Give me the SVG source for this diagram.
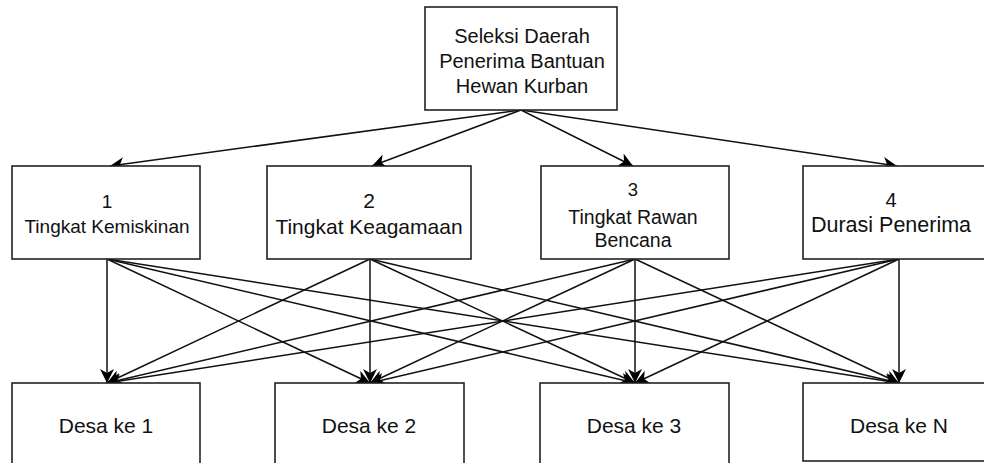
<svg xmlns="http://www.w3.org/2000/svg" width="984" height="463" viewBox="0 0 984 463">
<defs>
<marker id="arr" markerUnits="userSpaceOnUse" markerWidth="18" markerHeight="18" viewBox="-1 -9 17 18" refX="14" refY="0" orient="auto">
<path d="M0,-7 L14,0 L0,7 L4,0 Z" fill="#000"/>
</marker>
<style>
.box{fill:#fff;stroke:#222;stroke-width:1.6}
.t{font-family:"Liberation Sans",Arial,sans-serif;fill:#111;text-anchor:middle}
.e{stroke:#111;stroke-width:1.5;fill:none;marker-end:url(#arr)}
</style>
</defs>
<rect width="984" height="463" fill="#fff"/>
<g id="connectors">
<line class="e" x1="521" y1="110" x2="110" y2="166"/>
<line class="e" x1="521" y1="110" x2="372" y2="166"/>
<line class="e" x1="521" y1="110" x2="633" y2="166"/>
<line class="e" x1="521" y1="110" x2="897" y2="166"/>
<line class="e" x1="107" y1="259" x2="107" y2="383"/>
<line class="e" x1="107" y1="259" x2="370" y2="383"/>
<line class="e" x1="107" y1="259" x2="635" y2="383"/>
<line class="e" x1="107" y1="259" x2="899" y2="383"/>
<line class="e" x1="370" y1="259" x2="107" y2="383"/>
<line class="e" x1="370" y1="259" x2="370" y2="383"/>
<line class="e" x1="370" y1="259" x2="635" y2="383"/>
<line class="e" x1="370" y1="259" x2="899" y2="383"/>
<line class="e" x1="635" y1="259" x2="107" y2="383"/>
<line class="e" x1="635" y1="259" x2="370" y2="383"/>
<line class="e" x1="635" y1="259" x2="635" y2="383"/>
<line class="e" x1="635" y1="259" x2="899" y2="383"/>
<line class="e" x1="899" y1="259" x2="107" y2="383"/>
<line class="e" x1="899" y1="259" x2="370" y2="383"/>
<line class="e" x1="899" y1="259" x2="635" y2="383"/>
<line class="e" x1="899" y1="259" x2="899" y2="383"/>
</g>
<g id="root">
<rect class="box" x="425" y="7" width="192" height="103"/>
<text class="t" font-size="20" x="522" y="43">Seleksi Daerah</text>
<text class="t" font-size="20" x="522" y="68">Penerima Bantuan</text>
<text class="t" font-size="20" x="522" y="93">Hewan Kurban</text>
</g>
<g id="k1">
<rect class="box" x="12" y="166" width="188" height="93"/>
<text class="t" font-size="19" x="107" y="208">1</text>
<text class="t" font-size="19" x="107" y="233">Tingkat Kemiskinan</text>
</g>
<g id="k2">
<rect class="box" x="267" y="166" width="204" height="93"/>
<text class="t" font-size="21" x="369" y="208">2</text>
<text class="t" font-size="21" x="369" y="234">Tingkat Keagamaan</text>
</g>
<g id="k3">
<rect class="box" x="541" y="166" width="188" height="93"/>
<text class="t" font-size="18.5" x="633" y="196">3</text>
<text class="t" font-size="19.5" x="633" y="224">Tingkat Rawan</text>
<text class="t" font-size="19.5" x="633" y="247">Bencana</text>
</g>
<g id="k4">
<rect class="box" x="803" y="166" width="192" height="93"/>
<text class="t" font-size="20" x="891" y="207">4</text>
<text class="t" font-size="21.5" x="891" y="232">Durasi Penerima</text>
</g>
<g id="d1">
<rect class="box" x="12" y="383" width="188" height="90"/>
<text class="t" font-size="21" x="106" y="433">Desa ke 1</text>
</g>
<g id="d2">
<rect class="box" x="275" y="383" width="189" height="90"/>
<text class="t" font-size="21" x="369" y="433">Desa ke 2</text>
</g>
<g id="d3">
<rect class="box" x="540" y="383" width="189" height="90"/>
<text class="t" font-size="21" x="634" y="433">Desa ke 3</text>
</g>
<g id="dn">
<rect class="box" x="803" y="383" width="192" height="78"/>
<text class="t" font-size="21" x="899" y="433">Desa ke N</text>
</g>
</svg>
